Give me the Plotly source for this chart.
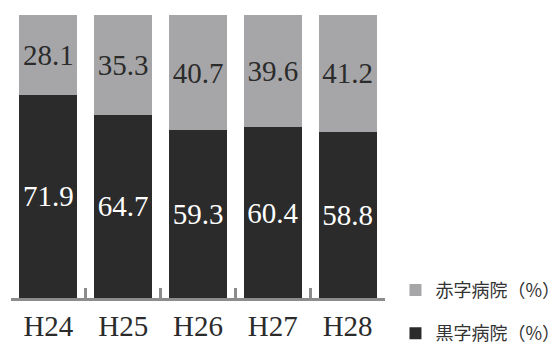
import plotly.graph_objects as go

years = ["H24", "H25", "H26", "H27", "H28"]
kuroji = [71.9, 64.7, 59.3, 60.4, 58.8]
akaji = [28.1, 35.3, 40.7, 39.6, 41.2]

fig = go.Figure()
fig.add_trace(go.Bar(
    x=years, y=kuroji, name="黒字病院（%）", legendgroup="b", legendrank=2,
    marker=dict(color="#2b2b2b", line=dict(width=0)),
    text=[f"{v:.1f}" for v in kuroji], textposition="inside",
    insidetextanchor="middle", textangle=0,
    textfont=dict(family="Liberation Serif", size=29, color="white"),
))
fig.add_trace(go.Bar(
    x=years, y=akaji, name="赤字病院（%）", legendgroup="a", legendrank=1,
    marker=dict(color="#a6a6a8", line=dict(width=0)),
    text=[f"{v:.1f}" for v in akaji], textposition="inside",
    insidetextanchor="middle", textangle=0,
    textfont=dict(family="Liberation Serif", size=29, color="#2b2b2b"),
))

fig.update_layout(
    width=560, height=345,
    barmode="stack", bargap=0.225,
    margin=dict(l=11, r=175, t=15, b=47, autoexpand=False),
    plot_bgcolor="white", paper_bgcolor="white",
    showlegend=True,
    legend=dict(
        traceorder="grouped", tracegroupgap=17,
        x=1.028, xanchor="left", y=-0.19, yanchor="bottom",
        font=dict(family="Noto Sans CJK JP", size=18, color="#333333"),
        itemwidth=30, bgcolor="rgba(0,0,0,0)",
    ),
    xaxis=dict(
        showline=True, linecolor="#8c8c8c", linewidth=3,
        ticks="inside", tickson="boundaries", ticklen=10, tickwidth=3,
        tickcolor="#8c8c8c", showgrid=False, automargin=False,
        tickfont=dict(family="Liberation Serif", size=29, color="#2b2b2b"),
        ticklabelstandoff=0,
    ),
    yaxis=dict(range=[0, 100], visible=False, showgrid=False),
)

fig.write_html("out.html")
